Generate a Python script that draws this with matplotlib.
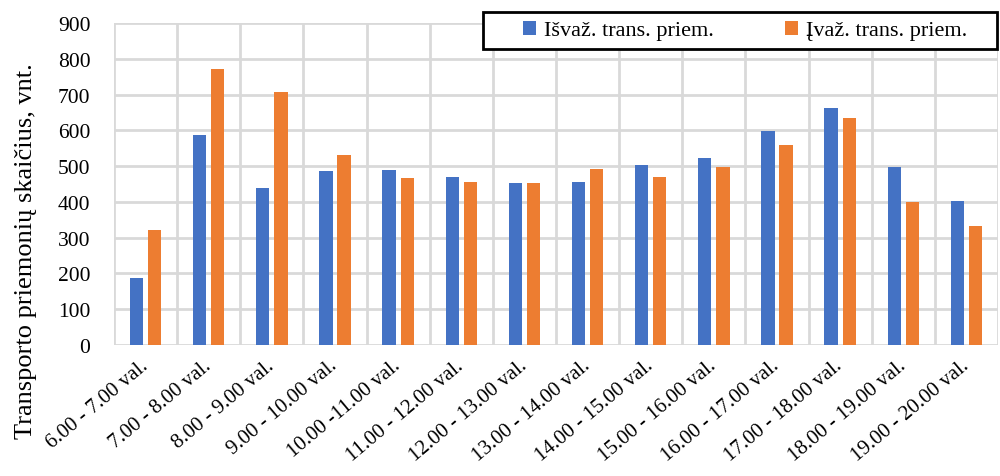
import numpy as np
import matplotlib.pyplot as plt
from matplotlib.patches import Rectangle

# valandiniai intervalai ir transporto priemonių skaičiai
intervalai = ['6.00 - 7.00 val.', '7.00 - 8.00 val.', '8.00 - 9.00 val.', '9.00 - 10.00 val.',
              '10.00 -11.00 val.', '11.00 - 12.00 val.', '12.00 - 13.00 val.', '13.00 - 14.00 val.',
              '14.00 - 15.00 val.', '15.00 - 16.00 val.', '16.00 - 17.00 val.', '17.00 - 18.00 val.',
              '18.00 - 19.00 val.', '19.00 - 20.00 val.']
isvaz = [188, 588, 439, 487, 490, 470, 452, 455, 502, 523, 598, 663, 497, 403]
ivaz = [321, 772, 707, 530, 467, 455, 452, 493, 470, 497, 560, 635, 400, 333]

plt.rcParams['font.family'] = ['Liberation Serif', 'DejaVu Serif']

fig = plt.figure(figsize=(10, 4.77), dpi=100)
ax = fig.add_axes([0.114, 0.2746, 0.884, 0.675])

x = np.arange(len(intervalai))
w = 0.21
ax.bar(x - 0.143, isvaz, w, color='#4472C4', label='Išvaž. trans. priem.', zorder=3)
ax.bar(x + 0.143, ivaz, w, color='#ED7D31', label='Įvaž. trans. priem.', zorder=3)

ax.set_xlim(-0.5, len(intervalai) - 0.5)
ax.set_ylim(0, 900)
ax.set_yticks(range(0, 901, 100))
ax.set_xticks(x)
ax.set_xticklabels(intervalai, rotation=40, ha='right', va='center', rotation_mode='anchor', fontsize=15)
ax.set_xticks(np.arange(-0.5, len(intervalai), 1), minor=True)
ax.tick_params(axis='both', which='both', length=0)
ax.tick_params(axis='y', labelsize=15.5, pad=17)
ax.tick_params(axis='x', pad=13)

# pilkas tinklelis: horizontalios linijos ir ribos tarp intervalų
ax.grid(axis='y', which='major', color='#d9d9d9', linewidth=2, zorder=0)
ax.grid(axis='x', which='minor', color='#d9d9d9', linewidth=2, zorder=0)
for s in ax.spines.values():
    s.set_visible(False)

fig.text(0.026, 0.474, 'Transporto priemonių skaičius, vnt.', rotation=90,
         ha='center', va='center', fontsize=19)

# legendos rėmelis atskirai, kad būtų platus ir aukštas
fig.add_artist(Rectangle((0.483, 1 - 50 / 477), 0.514, 37 / 477, transform=fig.transFigure,
                         facecolor='white', edgecolor='black', linewidth=2, zorder=5))
leg = fig.legend(loc='center', bbox_to_anchor=(0.745, 1 - 31.5 / 477), ncol=2, fontsize=16,
                 frameon=False, handlelength=0.6, handleheight=0.6, handletextpad=0.35,
                 columnspacing=3.2, borderpad=0, borderaxespad=0)
leg.set_zorder(6)

fig.savefig('out.png', dpi=100)
